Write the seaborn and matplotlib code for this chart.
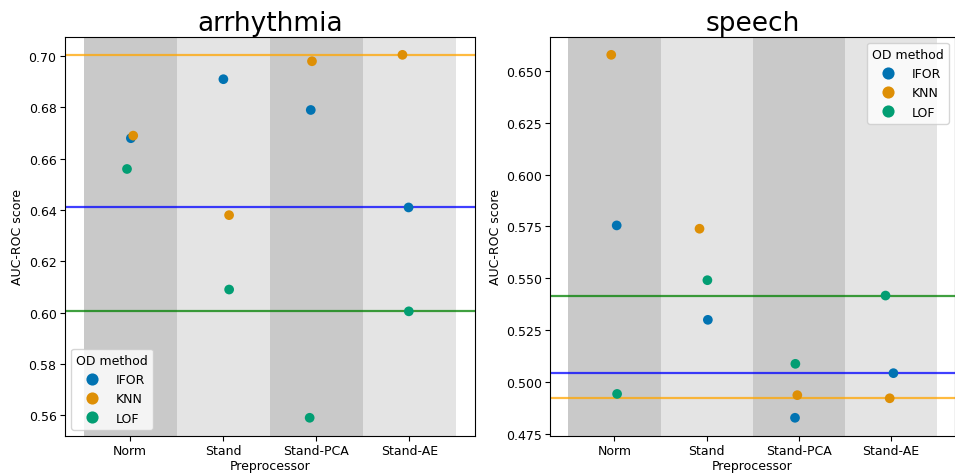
import numpy as np
import pandas as pd
import matplotlib
matplotlib.use("Agg")
import matplotlib.pyplot as plt
import seaborn as sns

preprocessors = ["Norm", "Stand", "Stand-PCA", "Stand-AE"]
methods = ["IFOR", "KNN", "LOF"]

# values per method, ordered as preprocessors
arr_ifor = [0.668, 0.691, 0.679, 0.641]
arr_knn = [0.669, 0.638, 0.698, 0.7005]
arr_lof = [0.656, 0.609, 0.559, 0.6005]

sp_ifor = [0.5755, 0.530, 0.4828, 0.5043]
sp_knn = [0.6577, 0.5739, 0.4937, 0.4922]
sp_lof = [0.4943, 0.5491, 0.5088, 0.5417]

datasets = ["arrhythmia", "speech"]
values = {"arrhythmia": [arr_ifor, arr_knn, arr_lof],
          "speech": [sp_ifor, sp_knn, sp_lof]}
legend_loc = {"arrhythmia": "lower left", "speech": "upper right"}

line_colors = {"IFOR": "blue", "KNN": "orange", "LOF": "green"}
band_colors = ["#c9c9c9", "#e4e4e4"]
palette = sns.color_palette("colorblind", 3)

np.random.seed(3)

fig = plt.figure(figsize=(9.55, 4.77), dpi=100)
axes = [fig.add_axes([0.068, 0.084, 0.429, 0.837]),
        fig.add_axes([0.576, 0.084, 0.424, 0.837])]

for ax, name in zip(axes, datasets):
    rows = []
    for m, vals in zip(methods, values[name]):
        for p, v in zip(preprocessors, vals):
            rows.append({"Preprocessor": p, "OD method": m, "AUC-ROC score": v})
    df = pd.DataFrame(rows)
    for i in range(len(preprocessors)):
        ax.axvspan(i - 0.5, i + 0.5, color=band_colors[i % 2], zorder=0, lw=0)
    sns.stripplot(data=df, x="Preprocessor", y="AUC-ROC score", hue="OD method",
                  order=preprocessors, hue_order=methods, palette=palette,
                  jitter=0.08, size=7, ax=ax, zorder=3)
    # reference lines at Stand-AE scores
    ref = df[df["Preprocessor"] == "Stand-AE"].set_index("OD method")["AUC-ROC score"]
    for m in methods:
        ax.axhline(ref[m], color=line_colors[m], alpha=0.75, lw=1.6, zorder=2)
    ax.set_xlim(-0.7, 3.7)
    ax.set_title(name, fontsize=19, pad=5)
    ax.set_xlabel("Preprocessor", fontsize=9, labelpad=1)
    ax.set_ylabel("AUC-ROC score", fontsize=9, labelpad=3)
    ax.tick_params(labelsize=9, pad=2.5)
    ax.legend(title="OD method", loc=legend_loc[name], fontsize=9, title_fontsize=9,
              markerscale=1.25, handletextpad=0.9, borderpad=0.4)

axes[1].yaxis.set_major_formatter(matplotlib.ticker.FormatStrFormatter("%.3f"))
axes[0].yaxis.set_major_formatter(matplotlib.ticker.FormatStrFormatter("%.2f"))

fig.savefig("out.png", dpi=100)
